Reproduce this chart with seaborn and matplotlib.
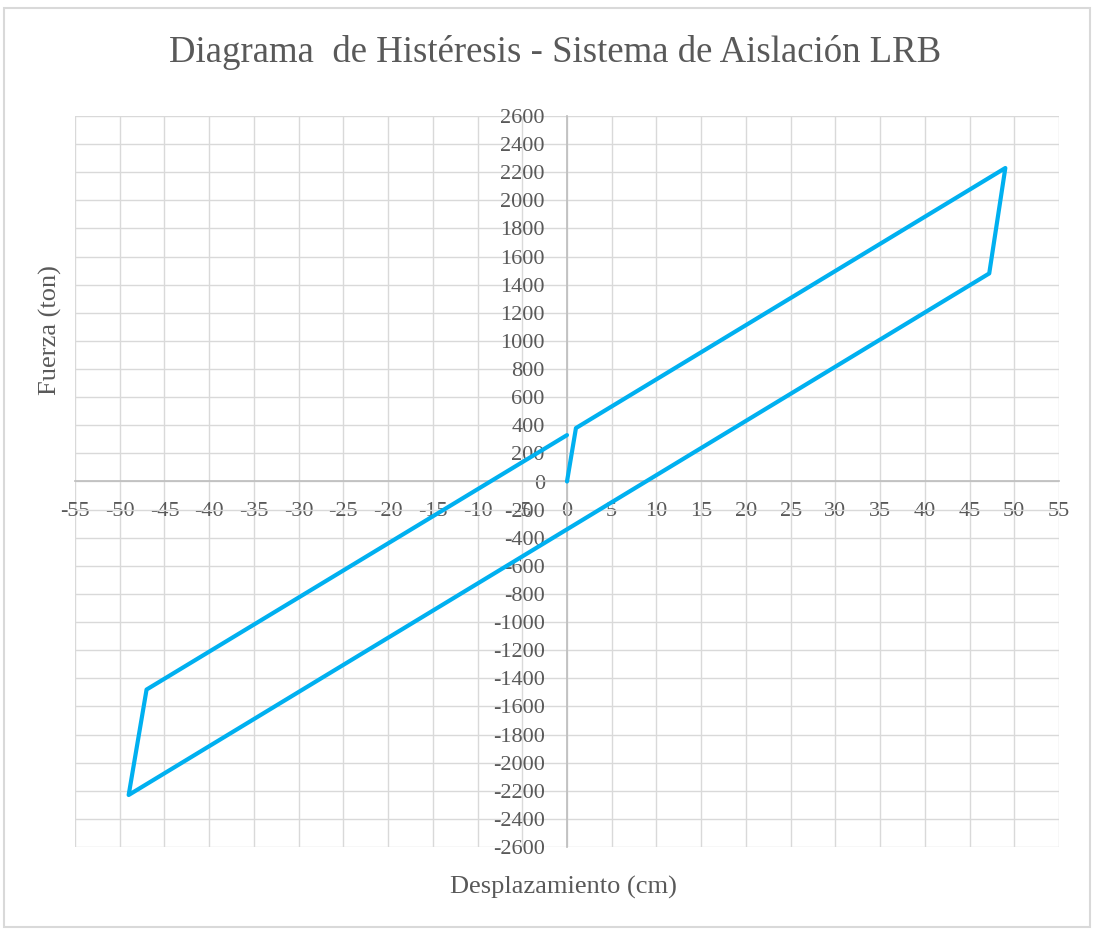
import numpy as np
import pandas as pd
import matplotlib
matplotlib.use("Agg")
import matplotlib.pyplot as plt
import seaborn as sns
from matplotlib.patches import Rectangle

# hysteresis loop points (cm, ton), in drawing order
desplazamiento = [0, 1, 49, 47.2, -49, -47, 0]
fuerza = [0, 380, 2230, 1480, -2230, -1480, 330]

x_ticks = list(range(-55, 60, 5))
y_ticks = list(range(-2600, 2800, 200))

df = pd.DataFrame({"x": desplazamiento, "y": fuerza})

sns.set_theme(style="white")
plt.rcParams['font.family'] = ['Liberation Serif', 'DejaVu Serif']
plt.rcParams['axes.unicode_minus'] = False

fig = plt.figure(figsize=(10.94, 9.3), dpi=100)
ax = fig.add_axes([75 / 1094, 1 - 847 / 930, 984 / 1094, 731 / 930])

sns.lineplot(data=df, x="x", y="y", sort=False, estimator=None,
             color="#00B0F0", linewidth=3, ax=ax, zorder=3)

ax.set_xlim(-55, 55)
ax.set_ylim(-2600, 2600)
ax.set_xticks(x_ticks)
ax.set_yticks(y_ticks)
ax.grid(True, color="#d9d9d9", linewidth=1)
ax.set_axisbelow(True)

# axes crossing at the origin, like Excel
for s in ["top", "right"]:
    ax.spines[s].set_visible(False)
ax.spines["left"].set_position(("data", 0))
ax.spines["bottom"].set_position(("data", 0))
ax.spines["left"].set_color("#bfbfbf")
ax.spines["bottom"].set_color("#bfbfbf")
ax.tick_params(axis="both", length=0, labelsize=16, colors="#595959")
ax.tick_params(axis="x", pad=15)
ax.tick_params(axis="y", pad=16)

ax.set_xlabel("")
ax.set_ylabel("")
fig.text(563 / 1094, 1 - 887 / 930, "Desplazamiento (cm)", ha="center", va="center",
         fontsize=19, color="#595959")
fig.text(50 / 1094, 1 - 330 / 930, "Fuerza (ton)", ha="center", va="center",
         rotation=90, fontsize=19, color="#595959")
fig.text(555 / 1094, 1 - 52 / 930, "Diagrama  de Histéresis - Sistema de Aislación LRB",
         ha="center", va="center", fontsize=26.5, color="#595959")

# chart area border
fig.patches.append(Rectangle((4 / 1094, 0.003), 1 - 8 / 1094, 1 - 8 / 930 - 0.003,
                             transform=fig.transFigure, fill=False,
                             edgecolor="#d9d9d9", linewidth=1.5))

fig.savefig("out.png", dpi=100, facecolor="white")
